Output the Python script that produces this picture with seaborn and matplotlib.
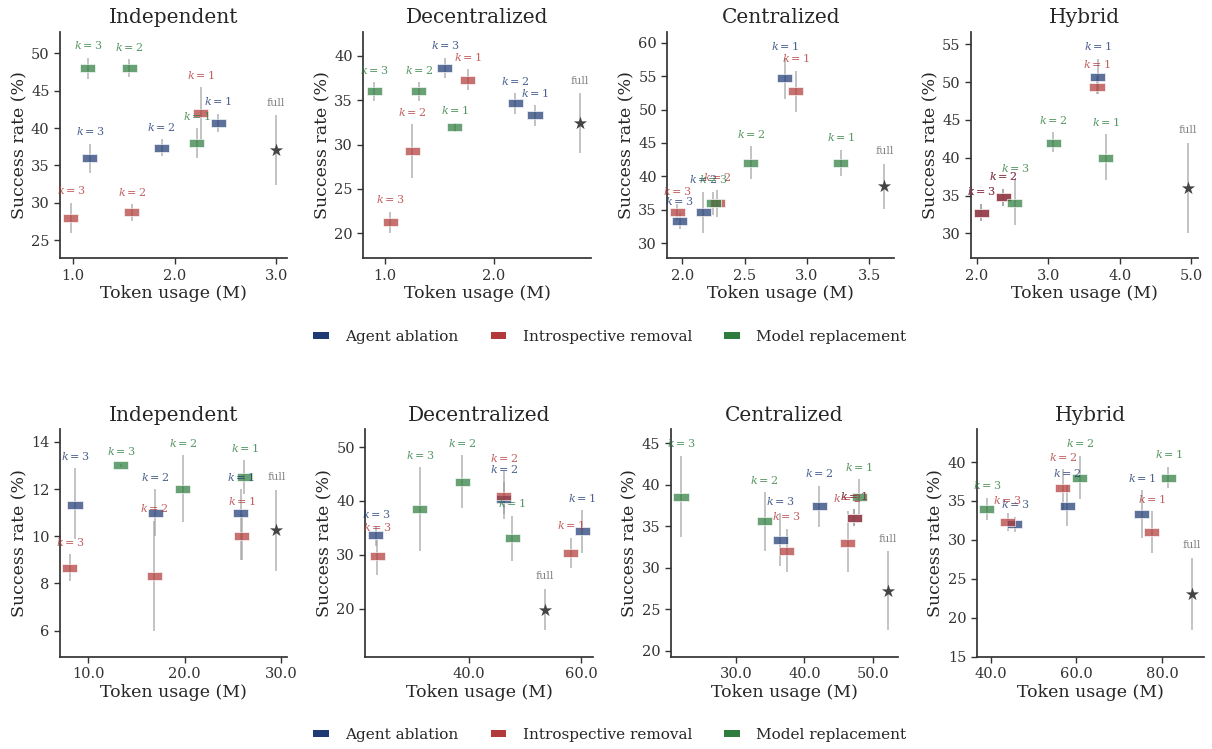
import matplotlib
matplotlib.use('Agg')
import matplotlib.pyplot as plt
import seaborn as sns
import pandas as pd
from matplotlib.path import Path
from matplotlib.patches import Patch
from matplotlib.ticker import FormatStrFormatter

# datos
PANELS = ['Independent', 'Decentralized', 'Centralized', 'Hybrid']
METHODS = ['Agent ablation', 'Introspective removal', 'Model replacement']
# orden en cada panel: ablation k=3,2,1 / removal k=3,2,1 / replacement k=3,2,1 / full
POINT_METHOD = ['Agent ablation'] * 3 + ['Introspective removal'] * 3 + ['Model replacement'] * 3 + ['full']
POINT_K = [3, 2, 1, 3, 2, 1, 3, 2, 1, 0]

TOP_TOKENS = [
    [1.167, 1.873, 2.43, 0.98, 1.58, 2.26, 1.147, 1.556, 2.22, 3.0],
    [1.55, 2.20, 2.38, 1.05, 1.25, 1.76, 0.90, 1.31, 1.64, 2.79],
    [1.98, 2.17, 2.82, 1.96, 2.28, 2.91, 2.25, 2.55, 3.27, 3.62],
    [2.06, 2.37, 3.69, 2.06, 2.37, 3.68, 2.53, 3.07, 3.80, 4.95],
]
TOP_SUCCESS = [
    [36.0, 37.35, 40.7, 28.0, 28.7, 42.0, 48.0, 48.0, 38.0, 37.0],
    [38.6, 34.65, 33.3, 21.25, 29.3, 37.25, 36.0, 36.0, 32.0, 32.45],
    [33.3, 34.7, 54.7, 34.7, 36.0, 52.7, 36.0, 42.0, 42.0, 38.5],
    [32.7, 34.8, 50.7, 32.7, 34.8, 49.4, 34.0, 42.0, 40.0, 36.0],
]
TOP_LO = [
    [34.0, 36.2, 39.5, 26.0, 27.5, 38.4, 46.6, 46.8, 36.0, 32.35],
    [37.45, 33.4, 32.1, 20.1, 26.2, 36.15, 34.9, 34.9, 31.4, 29.0],
    [32.15, 31.6, 51.6, 33.5, 34.0, 49.7, 34.2, 39.6, 40.1, 35.1],
    [31.6, 33.65, 48.4, 31.6, 33.65, 48.4, 31.1, 40.8, 37.1, 30.1],
]
TOP_HI = [
    [37.9, 38.5, 41.9, 30.0, 29.8, 45.45, 49.4, 49.2, 39.95, 41.7],
    [39.75, 35.8, 34.45, 22.45, 32.3, 38.5, 37.0, 37.0, 32.45, 35.8],
    [34.5, 37.7, 57.65, 35.9, 38.0, 55.8, 37.7, 44.5, 44.0, 41.9],
    [33.9, 35.9, 53.1, 33.9, 35.9, 50.8, 37.0, 43.4, 43.1, 42.0],
]

BOTTOM_TOKENS = [
    [8.65, 16.96, 25.8, 8.13, 16.86, 25.9, 13.4, 19.8, 26.2, 29.5],
    [23.4, 46.2, 60.2, 23.6, 46.25, 58.2, 31.25, 38.8, 47.7, 53.6],
    [36.5, 42.2, 47.3, 37.4, 46.3, 47.3, 22.0, 34.2, 48.0, 52.2],
    [45.6, 57.9, 75.3, 43.9, 56.8, 77.6, 39.07, 60.8, 81.5, 87.0],
]
BOTTOM_SUCCESS = [
    [11.33, 11.0, 11.0, 8.67, 8.33, 10.0, 13.0, 12.0, 12.5, 10.25],
    [33.7, 40.4, 34.5, 29.7, 41.0, 30.4, 38.6, 43.6, 33.1, 19.8],
    [33.4, 37.4, 36.05, 32.0, 33.0, 36.05, 38.6, 35.6, 38.6, 27.2],
    [32.0, 34.4, 33.35, 32.3, 36.65, 31.0, 34.0, 38.0, 38.0, 23.0],
]
BOTTOM_LO = [
    [9.9, 10.0, 9.0, 8.1, 6.0, 9.0, 12.93, 10.6, 11.8, 8.55],
    [31.7, 36.7, 30.4, 26.3, 37.5, 27.5, 30.8, 38.7, 28.8, 16.1],
    [30.2, 34.9, 35.1, 29.5, 29.5, 35.1, 33.7, 32.0, 36.4, 22.5],
    [31.0, 31.8, 30.3, 31.2, 33.8, 28.3, 32.6, 35.2, 36.6, 18.4],
]
BOTTOM_HI = [
    [12.87, 12.0, 12.0, 9.23, 10.65, 10.96, 13.07, 13.43, 13.22, 11.97],
    [35.3, 43.6, 38.3, 32.8, 45.6, 33.2, 46.3, 48.5, 37.3, 23.7],
    [36.6, 39.9, 37.1, 34.7, 36.9, 37.1, 43.5, 39.1, 40.7, 32.0],
    [33.0, 37.0, 36.4, 33.5, 39.1, 33.7, 35.4, 40.8, 39.4, 27.7],
]

TOP_XTICKS = [[1.0, 2.0, 3.0], [1.0, 2.0], [2.0, 2.5, 3.0, 3.5], [2.0, 3.0, 4.0, 5.0]]
TOP_YTICKS = [[25, 30, 35, 40, 45, 50], [20, 25, 30, 35, 40], [30, 35, 40, 45, 50, 55, 60], [30, 35, 40, 45, 50, 55]]
BOTTOM_XTICKS = [[10.0, 20.0, 30.0], [40.0, 60.0], [30.0, 40.0, 50.0], [40.0, 60.0, 80.0]]
BOTTOM_YTICKS = [[6, 8, 10, 12, 14], [20, 30, 40, 50], [20, 25, 30, 35, 40, 45], [15, 20, 25, 30, 35, 40]]

TOP_XLIM = [(0.873, 3.11), (0.80, 2.895), (1.88, 3.70), (1.916, 5.09)]
TOP_YLIM = [(22.55, 52.9), (17.2, 42.7), (27.76, 61.64), (26.7, 56.67)]
BOTTOM_XLIM = [(7.1, 30.6), (21.5, 62.1), (20.5, 53.7), (36.7, 89.8)]
BOTTOM_YLIM = [(4.9, 14.53), (11.1, 53.3), (19.3, 46.7), (15.0, 44.2)]

COLORS = {'Agent ablation': '#1f3b73', 'Introspective removal': '#b23a3a', 'Model replacement': '#2e7d3e'}

# estilo
sns.set_theme(style='ticks')
plt.rcParams['font.family'] = ['DejaVu Serif']
plt.rcParams['mathtext.fontset'] = 'dejavuserif'
plt.rcParams['axes.edgecolor'] = '#333333'
plt.rcParams['xtick.color'] = '#333333'
plt.rcParams['ytick.color'] = '#333333'

# marcador rectangular
RECT = Path([(-1, -0.53), (1, -0.53), (1, 0.53), (-1, 0.53), (-1, -0.53)],
            [Path.MOVETO, Path.LINETO, Path.LINETO, Path.LINETO, Path.CLOSEPOLY])

W, H = 1212, 749
fig = plt.figure(figsize=(W / 100, H / 100), dpi=100)


def draw_row(tokens, success, lo, hi, xlims, ylims, xticks, yticks, lefts, rights, top, bottom, legend_y):
    for i, name in enumerate(PANELS):
        ax = fig.add_axes([lefts[i] / W, 1 - bottom / H, (rights[i] - lefts[i]) / W, (bottom - top) / H])
        df = pd.DataFrame({'method': POINT_METHOD, 'k': POINT_K, 'tokens': tokens[i],
                           'success': success[i], 'lo': lo[i], 'hi': hi[i]})

        # barras de error
        ax.vlines(df['tokens'], df['lo'], df['hi'], color='#9a9a9a', linewidth=1.1, alpha=0.75, zorder=1)

        pts = df[df['method'] != 'full']
        sns.scatterplot(data=pts, x='tokens', y='success', hue='method', palette=COLORS,
                        hue_order=METHODS, marker=RECT, s=118, alpha=0.72,
                        edgecolor='white', linewidth=0.6, legend=False, ax=ax, zorder=3)
        full = df[df['method'] == 'full']
        sns.scatterplot(data=full, x='tokens', y='success', color='#444444', marker='*',
                        s=100, linewidth=0, legend=False, ax=ax, zorder=4)

        # etiquetas k
        for _, r in df.iterrows():
            if r['method'] == 'full':
                txt, col = 'full', '#666666'
            else:
                txt, col = f"$k={r['k']}$", COLORS[r['method']]
            ax.annotate(txt, (r['tokens'], r['hi']), xytext=(0, 9), textcoords='offset points',
                        ha='center', va='center', fontsize=8, color=col, alpha=0.8,
                        annotation_clip=False, zorder=5)

        ax.set_xlim(xlims[i])
        ax.set_ylim(ylims[i])
        ax.set_xticks(xticks[i])
        ax.set_yticks(yticks[i])
        ax.xaxis.set_major_formatter(FormatStrFormatter('%.1f'))
        ax.tick_params(labelsize=10.5, length=4, width=1)
        ax.set_title(name, fontsize=14.5)
        ax.set_xlabel('Token usage (M)', fontsize=12.5, labelpad=2)
        ax.set_ylabel('Success rate (%)', fontsize=12.5, labelpad=2)
        sns.despine(ax=ax)

    handles = [Patch(facecolor=COLORS[m], edgecolor='none', label=m) for m in METHODS]
    fig.legend(handles=handles, loc='center', bbox_to_anchor=(610 / W, 1 - legend_y / H), ncol=3,
               frameon=False, fontsize=11, handlelength=1.0, handleheight=0.4,
               handletextpad=1.1, columnspacing=2.1)


draw_row(TOP_TOKENS, TOP_SUCCESS, TOP_LO, TOP_HI, TOP_XLIM, TOP_YLIM, TOP_XTICKS, TOP_YTICKS,
         [60, 363.3, 667.3, 971], [287.3, 591, 894.3, 1197.7], 31.7, 258.3, 337)
draw_row(BOTTOM_TOKENS, BOTTOM_SUCCESS, BOTTOM_LO, BOTTOM_HI, BOTTOM_XLIM, BOTTOM_YLIM, BOTTOM_XTICKS,
         BOTTOM_YTICKS, [60, 365.3, 670.7, 976.7], [287, 592.7, 898.3, 1204], 429.3, 656.7, 735)

fig.savefig('out.png', dpi=100)
